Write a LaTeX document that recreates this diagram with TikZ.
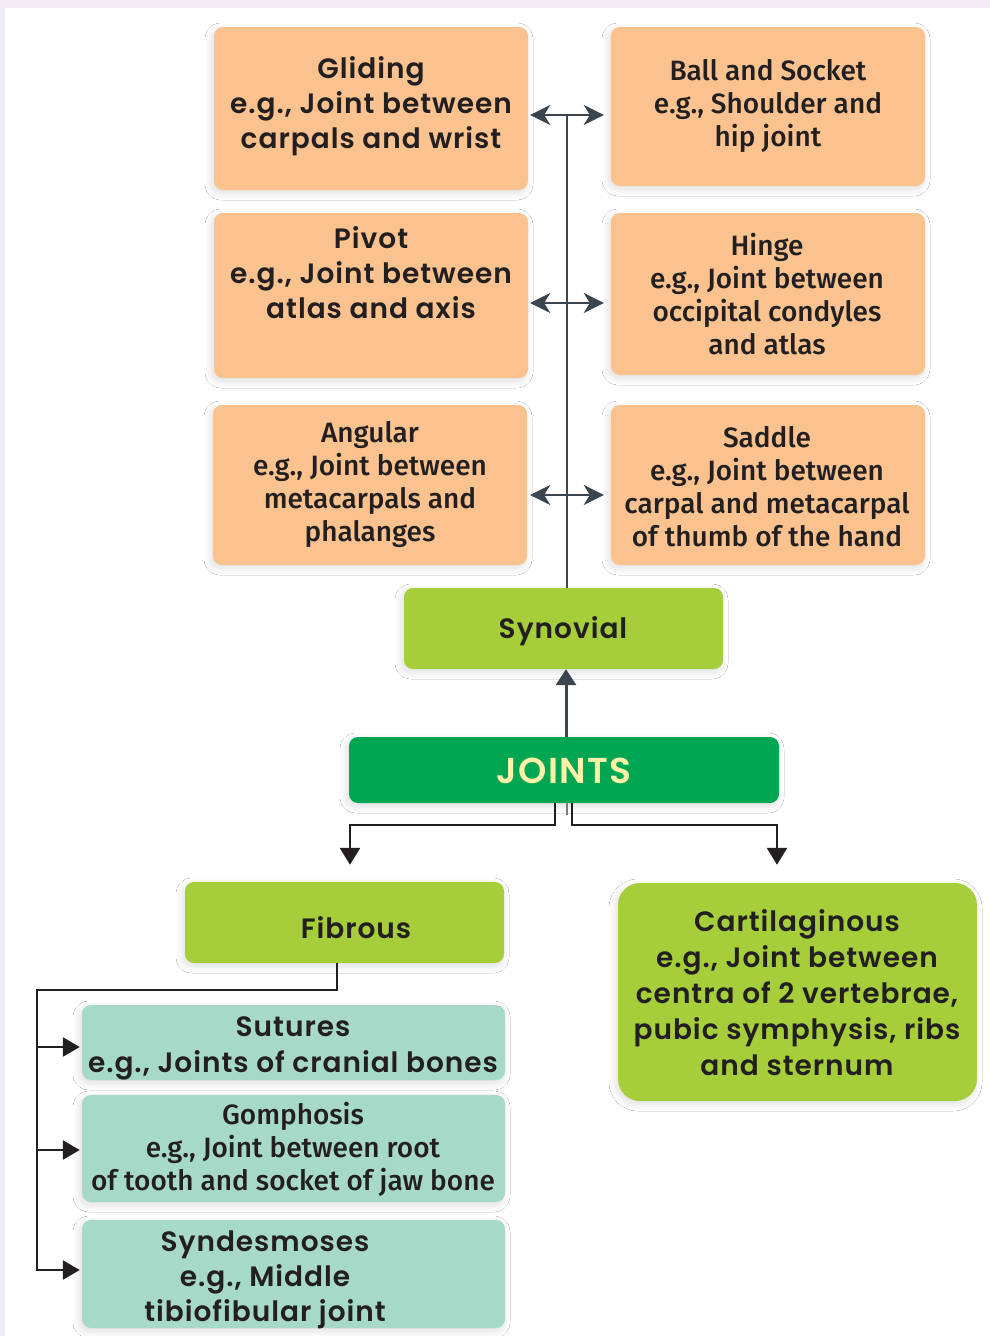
\documentclass[tikz,border=0pt]{standalone}
\usepackage{fontspec}
\usetikzlibrary{arrows.meta,shadows.blur,calc}
\newfontfamily\widefont{Poppins SemiBold}[LetterSpace=3.5]
\newfontfamily\heavyfont{Poppins SemiBold}[LetterSpace=4]
\newfontfamily\narrowfont{Fira Sans Medium}

\definecolor{framebg}{HTML}{F1ECF4}
\definecolor{peach}{HTML}{F9C28F}
\definecolor{leaf}{HTML}{A6CD3A}
\definecolor{deepgreen}{HTML}{00A651}
\definecolor{mint}{HTML}{A6D9C7}
\definecolor{ink}{HTML}{231F20}
\definecolor{slate}{HTML}{3B4550}
\definecolor{pale}{HTML}{FFF2A8}

% a card spanning (x1,y1)-(x2,y2)
\newcommand\card[6]{%
  \node[cardbox,#6,minimum width={#4pt-#2pt},minimum height={#5pt-#3pt}]
    (#1) at ({(#2+#4)/2},{(#3+#5)/2}) {};}

\tikzset{
  cardbox/.style={rounded corners=9pt,inner sep=0pt,
    blur shadow={shadow xshift=-2pt,shadow yshift=-3pt,shadow blur radius=7pt,shadow blur steps=20,shadow opacity=14}},
  widetext/.style={align=center,text=ink,font=\widefont\fontsize{28}{35}\selectfont},
  narrowtext/.style={align=center,text=ink,font=\narrowfont\fontsize{28}{33}\selectfont},
  spine/.style={slate,line width=2.5pt},
  twoway/.style={slate,line width=2.5pt,{Stealth[length=20pt,width=20pt,inset=6pt]}-{Stealth[length=20pt,width=20pt,inset=6pt]}},
  upward/.style={slate,line width=3pt,-{Triangle[length=16pt,width=20pt]}},
  downward/.style={ink,line width=2.5pt,-{Triangle[length=17pt,width=20pt]}},
  fanarrow/.style={ink,line width=2.5pt,-{Triangle[length=17pt,width=19pt]}},
}

\begin{document}
\begin{tikzpicture}[x=1pt,y=-1pt]
% page frame
\fill[framebg] (0,0) rectangle (990,1336);
\fill[white] (5,8) rectangle (990,1336);
\useasboundingbox (0,0) rectangle (990,1336);

% synovial joint types
\card{glideB}{214}{27}{528}{190}{fill=peach}
\card{ballB}{611}{27}{925}{186}{fill=peach}
\card{pivotB}{214}{213}{528}{378}{fill=peach}
\card{hingeB}{611}{213}{925}{375}{fill=peach}
\card{angB}{213}{405}{527}{565}{fill=peach}
\card{saddleB}{611}{405}{925}{565}{fill=peach}

% main categories
\card{synB}{404}{588}{723}{669}{fill=leaf}
\card{jointsB}{349}{737}{779}{803}{fill=deepgreen}
\card{fibB}{185}{882}{504}{963}{fill=leaf}
\card{cartB}{618}{883}{977}{1101}{fill=leaf,rounded corners=22pt}

% fibrous joint types
\card{sutB}{82}{1005}{505}{1080}{fill=mint}
\card{gomB}{82}{1095}{505}{1202}{fill=mint}
\card{sydB}{82}{1220}{505}{1328}{fill=mint}

% labels
\node[widetext] (glideT) at (371,106) {Gliding\\e.g., Joint between\\carpals and wrist};
\node[narrowtext] (ballT) at (768,106) {Ball and Socket\\e.g., Shoulder and\\hip joint};
\node[widetext] (pivotT) at (371,273) {Pivot\\e.g., Joint between\\atlas and axis};
\node[narrowtext] (hingeT) at (767,294.5) {Hinge\\e.g., Joint between\\occipital condyles\\and atlas};
\node[narrowtext] (angT) at (370,484) {Angular\\e.g., Joint between\\metacarpals and\\phalanges};
\node[narrowtext] (saddleT) at (767,486.5) {Saddle\\e.g., Joint between\\carpal and metacarpal\\of thumb of the hand};
\node[widetext] (synT) at (563,631) {Synovial};
\node[text=pale,font=\heavyfont\fontsize{36}{40}\selectfont] (jointsT) at (564,771) {JOINTS};
\node[widetext] (fibT) at (356,928) {Fibrous};
\node[widetext,font=\widefont\fontsize{28}{36}\selectfont] (cartT) at (797,993)
  {Cartilaginous\\e.g., Joint between\\centra of 2 vertebrae,\\pubic symphysis, ribs\\and sternum};
\node[widetext,font=\widefont\fontsize{28}{36}\selectfont] (sutT) at (293,1048) {Sutures\\e.g., Joints of cranial bones};
\node[narrowtext] (gomT) at (293,1149.5) {Gomphosis\\e.g., Joint between root\\of tooth and socket of jaw bone};
\node[widetext] (sydT) at (265,1279.5) {Syndesmoses\\e.g., Middle\\tibiofibular joint};

% synovial spine with two-way links
\coordinate (r1) at (567,115);
\coordinate (r2) at (567,303);
\coordinate (r3) at (567,495);
\draw[spine] (synB.north -| r1) -- (r1);
\draw[twoway,shorten <=2pt,shorten >=7pt] (glideB.east |- r1) -- (ballB.west |- r1);
\draw[twoway,shorten <=2pt,shorten >=7pt] (pivotB.east |- r2) -- (hingeB.west |- r2);
\draw[twoway,shorten <=3pt,shorten >=7pt] (angB.east |- r3) -- (saddleB.west |- r3);

% joints to synovial
\draw[upward] ([xshift=2pt]jointsB.north) -- ([xshift=2.5pt]synB.south);

% joints to fibrous and cartilaginous
\coordinate (stub) at (567,815);
\draw[slate!70,line width=1.5pt] (jointsB.south -| stub) -- (stub);
\draw[downward,shorten >=17pt] ([xshift=-9pt]jointsB.south) -- ++(0,22) -| ([xshift=5.5pt]fibB.north);
\draw[downward,shorten >=18pt] ([xshift=8pt]jointsB.south) -- ++(0,22) -| ([xshift=-20.5pt]cartB.north);

% fibrous fan-out
\coordinate (f1) at (37,1047);
\coordinate (f2) at (37,1150);
\coordinate (f3) at (37,1270);
\draw[fanarrow,shorten >=2pt] ([xshift=-7.5pt]fibB.south) -- ++(0,27) -| (f3) -- (f3 -| sydB.west);
\draw[fanarrow,shorten >=2pt] (f1) -- (f1 -| sutB.west);
\draw[fanarrow,shorten >=2pt] (f2) -- (f2 -| gomB.west);
\end{tikzpicture}
\end{document}
